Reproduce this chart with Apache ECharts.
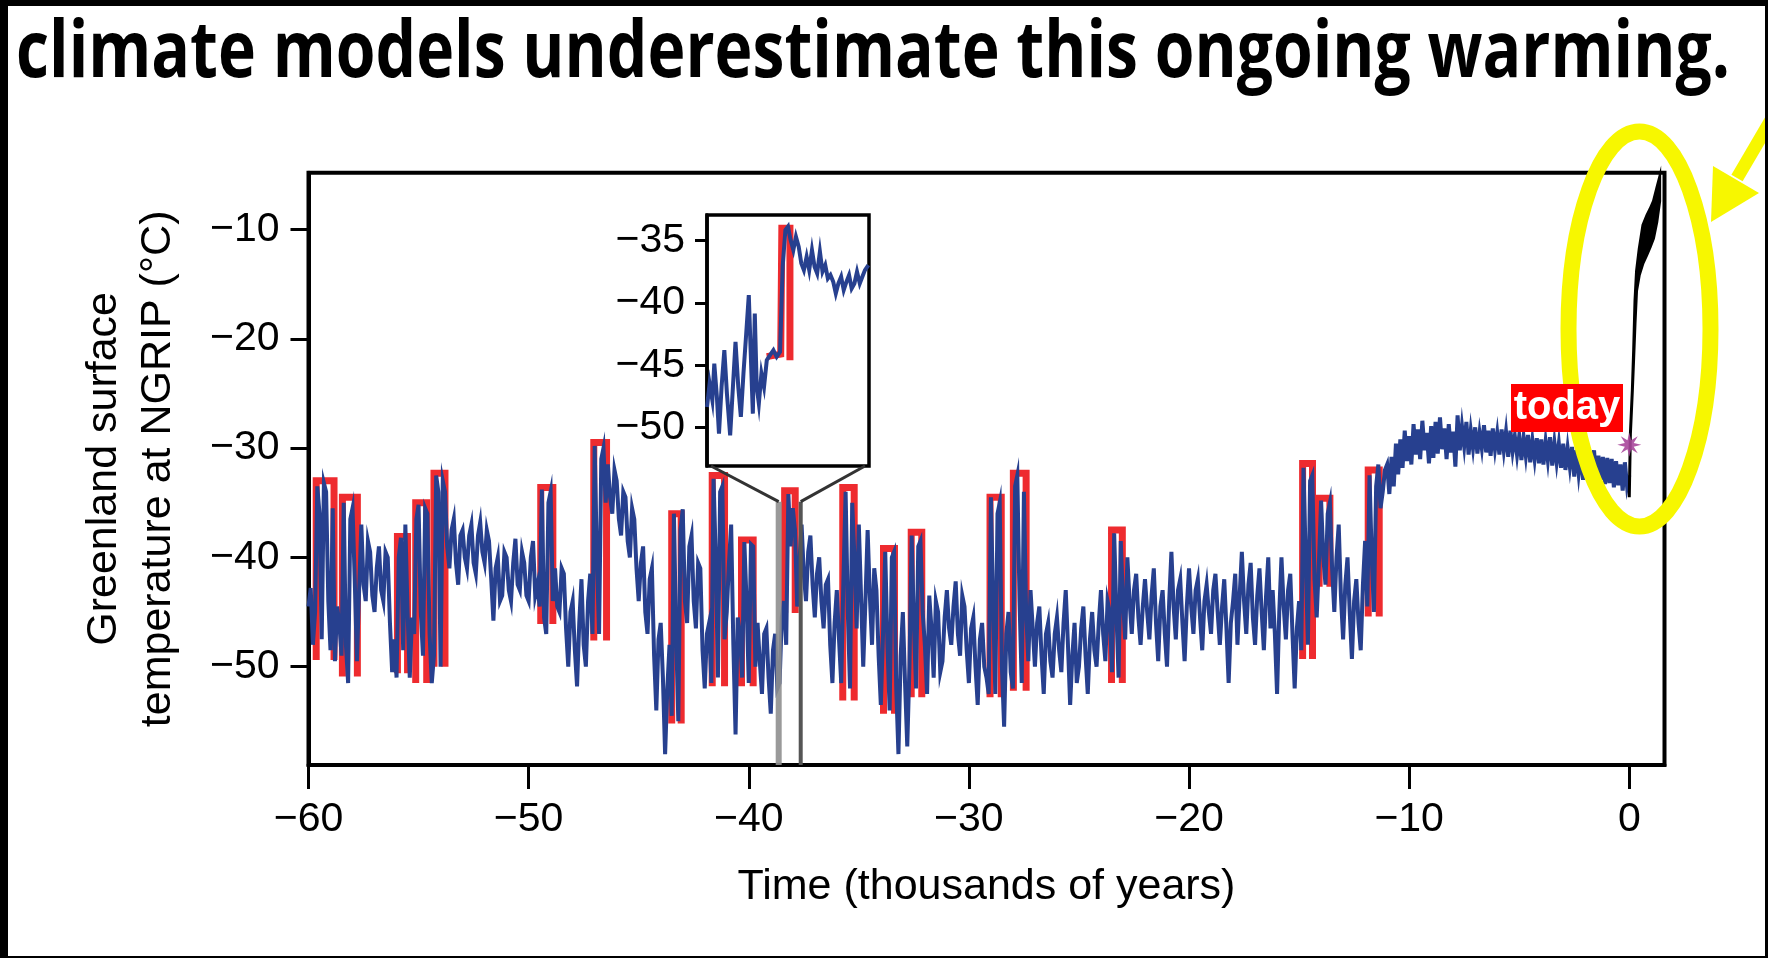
<!DOCTYPE html>
<html>
<head>
<meta charset="utf-8">
<script src="https://cdn.jsdelivr.net/npm/echarts@6/dist/echarts.min.js"></script>
<style>
html,body{margin:0;padding:0;background:#fff;overflow:hidden}
#c{width:1768px;height:958px}
</style>
</head>
<body>
<div id="c"></div>
<script>
// ---------------- DATA ----------------
const titleText = 'climate models underestimate this ongoing warming.';
const xAxisTitle = 'Time (thousands of years)';
const yAxisTitle = 'Greenland surface\ntemperature at NGRIP (\u00B0C)';
const todayLabel = 'today';

const xTickValues = [-60, -50, -40, -30, -20, -10, 0];
const yTickValues = [-50, -40, -30, -20, -10];
const insetTickValues = [-50, -45, -40, -35];

// NGRIP record: start (kyr), step (kyr) and temperature (°C), one row per kyr
const recordStart = -60;
const recordStep = 0.1;
const ngripTemp = [
  -44.5, -42.8, -48.0, -45.0, -33.5, -36.0, -47.5, -33.2, -34.0, -44.0,
  -48.5, -35.5, -49.5, -44.5, -46.0, -49.0, -35.0, -48.0, -51.5, -36.5,
  -35.5, -42.0, -49.5, -43.0, -37.0, -42.5, -44.0, -38.5, -39.5, -43.5,
  -45.0, -41.0, -39.0, -43.0, -44.0, -39.5, -40.0, -46.0, -50.5, -47.5,
  -51.0, -40.0, -38.2, -48.5, -37.0, -45.0, -51.0, -45.5, -47.0, -36.5,
  -35.2, -45.0, -49.0, -35.5, -36.0, -47.0, -51.5, -49.0, -32.5, -34.0,
  -50.0, -33.0, -34.0, -39.0, -41.0, -37.5, -36.5, -40.5, -42.5, -38.0,
  -37.5, -40.0, -41.0, -38.0, -37.0, -40.5, -41.5, -38.0, -36.8, -39.5,
  -40.5, -37.5, -38.5, -42.0, -45.8, -41.0, -40.0, -44.0, -43.5, -39.5,
  -40.0, -43.0, -44.0, -40.5, -38.3, -42.5, -43.0, -39.5, -40.5, -43.5,
  -44.0, -40.0, -38.5, -43.5, -42.5, -44.5, -33.8, -45.5, -47.0, -35.0,
  -34.0, -44.0, -41.0, -44.5, -45.0, -41.0, -41.5, -46.5, -50.0, -45.0,
  -44.0, -48.5, -51.8, -46.0, -42.0, -48.0, -50.0, -44.0, -41.5, -47.0,
  -29.8, -40.0, -47.0, -31.0, -30.0, -35.0, -31.5, -34.5, -36.0, -32.0,
  -33.0, -36.5, -38.0, -34.0, -34.5, -38.5, -40.0, -35.5, -36.5, -41.0,
  -44.0, -40.5, -39.0, -45.0, -47.0, -42.0, -41.0, -49.0, -54.0, -47.5,
  -46.0, -51.0, -58.0, -52.0, -48.0, -54.5, -36.0, -47.0, -55.0, -37.5,
  -35.6, -44.0, -46.0, -39.0, -38.0, -44.0, -46.5, -40.5, -41.0, -48.5,
  -52.0, -47.0, -46.0, -51.5, -32.8, -40.0, -51.0, -34.0, -33.5, -47.5,
  -45.0, -40.5, -37.0, -48.0, -56.2, -45.5, -47.0, -51.0, -38.6, -44.0,
  -51.5, -38.8, -39.0, -50.0, -46.0, -49.5, -52.5, -47.0, -46.5, -51.0,
  -54.3, -48.5, -47.0, -52.0, -51.5, -45.5, -44.0, -48.0, -34.2, -39.0,
  -35.5, -37.5, -44.5, -40.5, -37.0, -41.5, -44.0, -39.5, -38.0, -42.5,
  -45.5, -41.5, -40.0, -44.0, -46.5, -42.5, -42.0, -48.0, -51.5, -46.0,
  -43.0, -47.5, -51.5, -42.0, -34.0, -45.0, -52.0, -35.0, -40.0, -46.5,
  -37.0, -43.5, -50.0, -44.0, -37.5, -43.5, -48.0, -41.0, -43.0, -49.0,
  -53.5, -47.0, -39.5, -48.0, -54.0, -40.0, -39.5, -52.0, -58.0, -49.0,
  -45.0, -51.5, -57.3, -50.0, -38.0, -46.0, -52.0, -39.0, -38.5, -45.0,
  -48.0, -52.5, -43.5, -46.5, -51.0, -44.0, -45.0, -50.5, -49.5, -45.5,
  -43.0, -46.5, -48.0, -44.5, -42.2, -47.0, -49.0, -43.5, -44.5, -48.5,
  -51.5, -46.5, -45.5, -50.0, -53.5, -47.5, -46.0, -50.0, -51.0, -52.5,
  -34.5, -44.0, -52.5, -36.0, -35.0, -50.0, -55.5, -47.0, -45.0, -50.5,
  -52.0, -33.5, -32.5, -44.0, -51.5, -34.0, -45.0, -49.5, -43.0, -46.5,
  -50.0, -46.0, -44.5, -49.0, -52.5, -47.0, -46.0, -49.5, -51.0, -47.0,
  -45.5, -48.5, -50.5, -46.0, -43.0, -48.0, -53.5, -49.0, -46.0, -51.5,
  -50.0, -46.5, -44.5, -49.0, -52.5, -47.5, -45.0, -48.5, -50.0, -46.0,
  -43.0, -47.0, -49.5, -44.0, -45.0, -50.5, -37.8, -45.0, -51.0, -38.5,
  -44.0, -47.5, -40.0, -44.0, -47.0, -43.0, -41.5, -45.5, -48.0, -44.5,
  -42.0, -45.0, -47.5, -43.5, -41.0, -46.0, -49.5, -44.5, -43.0, -47.0,
  -50.0, -44.0, -39.5, -44.5, -47.5, -43.0, -42.0, -46.0, -49.5, -44.5,
  -41.0, -44.5, -47.0, -43.0, -42.0, -45.5, -48.5, -44.0, -42.5, -45.0,
  -47.0, -43.0, -41.5, -45.0, -48.0, -44.5, -42.0, -46.5, -51.5, -46.0,
  -44.0, -41.5, -48.0, -43.5, -39.5, -44.0, -47.0, -42.5, -40.5, -45.5,
  -48.0, -43.5, -41.0, -45.0, -48.5, -43.5, -40.0, -46.5, -43.0, -47.0,
  -52.5, -45.0, -40.0, -44.5, -47.5, -43.0, -41.5, -47.0, -52.0, -46.5,
  -44.0, -48.5, -31.8, -40.0, -48.0, -33.0, -32.5, -42.0, -45.5, -40.5,
  -34.8, -40.0, -42.5, -36.0, -35.0, -41.0, -45.0, -40.0, -37.0, -43.5,
  -47.5, -42.5, -40.0, -45.0, -49.3, -44.0, -42.0, -46.0, -48.5, -42.5,
  -38.5, -44.5, -32.5, -40.0, -45.0, -33.5, -31.5, -35.5, -34.0, -32.0,
  -31.5, -34.2, -30.8, -33.5, -29.6, -32.4, -29.2, -31.8, -28.4, -31.2,
  -28.9, -31.5, -27.8, -30.6, -28.3, -31.0, -27.5, -30.2, -28.6, -31.4,
  -28.0, -30.9, -27.6, -30.5, -27.2, -30.1, -28.2, -31.0, -27.8, -30.4,
  -28.5, -31.7, -27.0, -30.2, -28.0, -29.8, -27.6, -30.6, -28.4, -30.0,
  -28.1, -30.5, -28.6, -30.0, -27.9, -30.4, -28.4, -30.7, -28.2, -30.1,
  -28.6, -30.6, -28.3, -30.2, -28.5, -30.8, -28.4, -30.3, -28.9, -30.6,
  -28.9, -31.1, -29.0, -30.7, -28.8, -31.3, -29.3, -31.0, -29.1, -31.4,
  -29.2, -31.5, -29.4, -31.1, -29.0, -31.6, -29.5, -31.3, -29.6, -31.8,
  -29.6, -32.0, -30.0, -31.7, -29.9, -32.6, -30.2, -32.3, -30.4, -32.9,
  -30.3, -32.8, -30.6, -32.5, -30.2, -33.1, -30.7, -32.9, -30.8, -33.3,
  -30.9, -33.2, -31.0, -33.6, -31.2, -33.4, -31.5, -33.9, -31.3, -33.5,
  -32.5
];

// abrupt warming (red) events: start/end (kyr), low and high level (°C)
const doStart = [-59.65, -58.46, -55.96, -55.13, -54.30, -49.45, -47.04, -43.50, -41.66, -40.33, -38.37, -35.73, -33.88, -32.62, -29.04, -27.98, -23.52, -14.84, -14.09, -11.86];
const doEnd   = [-58.84, -57.78, -55.50, -54.63, -53.80, -48.90, -46.46, -43.07, -41.10, -39.80, -37.89, -35.21, -33.38, -32.14, -28.53, -27.40, -23.03, -14.39, -13.60, -11.36];
const doLow   = [-49.4, -50.9, -50.6, -51.5, -50.0, -46.1, -47.6, -55.2, -51.8, -51.8, -45.1, -53.1, -54.3, -52.8, -52.8, -52.2, -51.5, -49.3, -42.7, -45.4];
const doHigh  = [-33.0, -34.5, -38.1, -35.0, -32.3, -33.6, -29.5, -36.0, -32.5, -38.4, -33.9, -33.6, -39.2, -37.7, -34.5, -32.3, -37.5, -31.4, -34.6, -32.0];

// inset: 1000-year window (years from window start) and temperature
const insetWindow = [-38.64, -37.64];   // kyr in the main record
const insetYRange = [-53.08, -32.94];
const grayLineTop = -34.9;
const insetYears = [0, 16, 33, 45, 61, 74, 90, 107, 123, 143, 160, 176, 193, 209, 225, 242, 258, 270, 283, 295, 307, 320, 336, 352, 369, 389, 410, 430, 451, 467, 484, 500, 516, 533, 549, 566, 582, 598, 615, 631, 648, 664, 680, 697, 713, 730, 746, 762, 779, 795, 811, 828, 844, 861, 877, 893, 910, 926, 943, 959, 975, 996];
const insetTemp  = [-48.34, -46.47, -47.80, -44.86, -47.54, -50.48, -46.73, -43.79, -47.27, -50.62, -46.73, -43.12, -46.73, -49.14, -45.66, -42.45, -39.37, -44.05, -48.88, -40.84, -46.73, -48.07, -45.66, -46.73, -44.59, -44.19, -43.79, -44.32, -43.92, -37.09, -34.14, -33.87, -34.95, -35.75, -34.68, -35.48, -36.82, -37.36, -36.29, -37.36, -35.75, -37.09, -37.63, -35.88, -37.49, -36.96, -38.03, -37.76, -38.29, -39.23, -38.43, -37.89, -38.96, -38.29, -37.76, -38.83, -38.43, -37.49, -38.43, -37.89, -37.36, -36.96];
const insetRedYears = [369, 455, 462, 512, 512];
const insetRedTemp  = [-44.3, -44.1, -34.0, -34.0, -44.6];

// projection (black) after today: time (kyr), upper and lower edge (°C)
const projTime  = [0, 0.05, 0.14, 0.2, 0.26, 0.33, 0.45, 0.62, 0.8, 0.95, 1.1, 1.25, 1.38];
const projUpper = [-34.5, -28.7, -24.7, -21.0, -16.5, -13.8, -11.8, -9.6, -8.7, -8.1, -7.4, -6.2, -5.2];
const projLower = [-34.5, -28.7, -24.7, -21.7, -18.6, -15.6, -14.2, -13.1, -12.3, -11.6, -10.8, -9.3, -7.4];

const todayPoint = [0, -29.7];

// ---------------- CHART ----------------
const FONT = '"Liberation Sans", Arial, Helvetica, sans-serif';
const BLUE = '#27408f';
const RED = '#ee2b2f';
const fmt = v => (v < 0 ? '\u2212' : '') + Math.abs(v);

const chart = echarts.init(document.getElementById('c'), null, {renderer: 'canvas', width: 1768, height: 958});

const blueData = ngripTemp.map((v, i) => [Math.round((recordStart + i * recordStep) * 10) / 10, v]);

const redSeries = doStart.map((t0, i) => ({
  type: 'line', xAxisIndex: 0, yAxisIndex: 0, z: 2, symbol: 'none', silent: true,
  lineStyle: {color: RED, width: 7, join: 'miter', cap: 'butt'},
  data: [[t0, doLow[i]], [t0, doHigh[i]], [doEnd[i], doHigh[i]], [doEnd[i], doLow[i]]]
}));

const starPath = 'path://M0,-10 L1.53,-3.7 L7.07,-7.07 L3.7,-1.53 L10,0 L3.7,1.53 L7.07,7.07 L1.53,3.7 L0,10 L-1.53,3.7 L-7.07,7.07 L-3.7,1.53 L-10,0 L-3.7,-1.53 L-7.07,-7.07 L-1.53,-3.7 Z';

const option = {
  animation: false,
  backgroundColor: '#fff',
  grid: [
    {left: 308.5, top: 172.7, width: 1356, height: 592.3, show: true, borderColor: '#000', borderWidth: 4, backgroundColor: 'transparent', containLabel: false, outerBoundsMode: 'none'},
    {left: 707, top: 215, width: 162, height: 251, show: true, borderColor: '#000', borderWidth: 3.5, backgroundColor: 'transparent', containLabel: false, outerBoundsMode: 'none'}
  ],
  xAxis: [
    {
      gridIndex: 0, type: 'value', min: -60, max: 1.6,
      axisLine: {show: true, onZero: false, lineStyle: {color: '#000', width: 4}},
      axisTick: {show: true, inside: false, length: 24, customValues: xTickValues, lineStyle: {color: '#000', width: 3}},
      axisLabel: {show: true, customValues: xTickValues, margin: 34, fontSize: 41, fontFamily: FONT, color: '#000', formatter: fmt},
      splitLine: {show: false},
      name: xAxisTitle, nameLocation: 'middle', nameGap: 98,
      nameTextStyle: {fontSize: 43, fontFamily: FONT, color: '#000', lineHeight: 48}
    },
    {
      gridIndex: 1, type: 'value', min: 0, max: 1000, show: false,
      splitLine: {show: false}
    }
  ],
  yAxis: [
    {
      gridIndex: 0, type: 'value', min: -59, max: -4.8,
      axisLine: {show: true, onZero: false, lineStyle: {color: '#000', width: 4}},
      axisTick: {show: true, inside: false, length: 18, customValues: yTickValues, lineStyle: {color: '#000', width: 3}},
      axisLabel: {show: true, customValues: yTickValues, margin: 29, fontSize: 41, fontFamily: FONT, color: '#000', formatter: fmt},
      splitLine: {show: false},
      name: yAxisTitle, nameLocation: 'middle', nameRotate: 90, nameGap: 123,
      nameTextStyle: {fontSize: 43, fontFamily: FONT, color: '#000', lineHeight: 54, align: 'center'}
    },
    {
      gridIndex: 1, type: 'value', min: insetYRange[0], max: insetYRange[1],
      axisLine: {show: true, onZero: false, lineStyle: {color: '#000', width: 3.5}},
      axisTick: {show: true, inside: false, length: 12, customValues: insetTickValues, lineStyle: {color: '#000', width: 3}},
      axisLabel: {show: true, customValues: insetTickValues, margin: 22, fontSize: 41, fontFamily: FONT, color: '#000', formatter: fmt},
      splitLine: {show: false}
    }
  ],
  series: [
    ...redSeries,
    {
      type: 'line', name: 'NGRIP', xAxisIndex: 0, yAxisIndex: 0, z: 3, symbol: 'none', silent: true,
      sampling: 'none', lineStyle: {color: BLUE, width: 4, join: 'miter'},
      data: blueData
    },
    {
      type: 'line', xAxisIndex: 0, yAxisIndex: 0, z: 4, symbol: 'none', silent: true,
      lineStyle: {color: '#8f8f8f', width: 6, opacity: 0.9},
      data: [[insetWindow[0], grayLineTop], [insetWindow[0], -59]]
    },
    {
      type: 'line', xAxisIndex: 0, yAxisIndex: 0, z: 4, symbol: 'none', silent: true,
      lineStyle: {color: '#555', width: 4},
      data: [[insetWindow[1], grayLineTop], [insetWindow[1], -59]]
    },
    {
      type: 'custom', xAxisIndex: 0, yAxisIndex: 0, z: 5, silent: true,
      data: [[projTime[0], projUpper[0]]],
      renderItem: function (params, api) {
        const up = projTime.map((t, i) => api.coord([t, projUpper[i]]));
        const lo = projTime.map((t, i) => api.coord([t, projLower[i]])).reverse();
        return {type: 'polygon', shape: {points: up.concat(lo)}, style: {fill: '#000', stroke: '#000', lineWidth: 3}};
      }
    },
    {
      type: 'scatter', xAxisIndex: 0, yAxisIndex: 0, z: 6, silent: true,
      symbol: starPath, symbolSize: 24, itemStyle: {color: '#a9479b', opacity: 0.9},
      data: [todayPoint]
    },
    {
      type: 'line', xAxisIndex: 1, yAxisIndex: 1, z: 2, symbol: 'none', silent: true,
      lineStyle: {color: RED, width: 7, join: 'miter'},
      data: insetRedYears.map((y, i) => [y, insetRedTemp[i]])
    },
    {
      type: 'line', xAxisIndex: 1, yAxisIndex: 1, z: 3, symbol: 'none', silent: true,
      lineStyle: {color: BLUE, width: 4, join: 'miter'},
      data: insetYears.map((y, i) => [y, insetTemp[i]])
    }
  ]
};
chart.setOption(option);

// ---------- decorations (annotation graphics) ----------
const mctx = document.createElement('canvas').getContext('2d');
const titleFont = 'bold 78px "Open Sans"';
mctx.font = titleFont;
const titleW = mctx.measureText(titleText).width || 2200;
const titleScale = 1714 / titleW;

const pInsetL = chart.convertToPixel({xAxisIndex: 1, yAxisIndex: 1}, [0, insetYRange[0]]);
const pInsetR = chart.convertToPixel({xAxisIndex: 1, yAxisIndex: 1}, [1000, insetYRange[0]]);
const pGrayL = chart.convertToPixel({xAxisIndex: 0, yAxisIndex: 0}, [insetWindow[0], grayLineTop]);
const pGrayR = chart.convertToPixel({xAxisIndex: 0, yAxisIndex: 0}, [insetWindow[1], grayLineTop]);

const YEL = '#f7f700';
chart.setOption({
  graphic: [
    {type: 'text', z: 100, x: 16, y: 16, scaleX: titleScale, scaleY: 1,
     style: {text: titleText, font: titleFont, fill: '#000', textAlign: 'left', textVerticalAlign: 'top', align: 'left', verticalAlign: 'top'}},
    {type: 'line', z: 100, shape: {x1: pInsetL[0] + 4, y1: pInsetL[1], x2: pGrayL[0], y2: pGrayL[1]}, style: {stroke: '#333', lineWidth: 3}},
    {type: 'line', z: 100, shape: {x1: pInsetR[0] - 4, y1: pInsetR[1], x2: pGrayR[0], y2: pGrayR[1]}, style: {stroke: '#333', lineWidth: 3}},
    {type: 'ellipse', z: 100, shape: {cx: 1639.5, cy: 329, rx: 71, ry: 197.5}, style: {fill: 'rgba(0,0,0,0)', stroke: YEL, lineWidth: 16}},
    {type: 'line', z: 100, shape: {x1: 1737, y1: 178, x2: 1792, y2: 84}, style: {stroke: YEL, lineWidth: 13}},
    {type: 'polygon', z: 100, shape: {points: [[1711, 222], [1713, 166], [1759, 193]]}, style: {fill: YEL}},
    {type: 'rect', z: 104, shape: {x: 1511, y: 384, width: 112, height: 48}, style: {fill: '#ff0000'}},
    {type: 'text', z: 105, x: 1567, y: 407.5,
     style: {text: todayLabel, font: 'bold 40px "Liberation Sans", Arial, sans-serif', fill: '#fff', textAlign: 'center', textVerticalAlign: 'middle', align: 'center', verticalAlign: 'middle'}},
    {type: 'rect', z: 110, shape: {x: 0, y: 0, width: 8, height: 958}, style: {fill: '#000'}},
    {type: 'rect', z: 110, shape: {x: 0, y: 0, width: 1768, height: 6}, style: {fill: '#000'}},
    {type: 'rect', z: 110, shape: {x: 1765, y: 0, width: 3, height: 958}, style: {fill: '#000'}},
    {type: 'rect', z: 110, shape: {x: 0, y: 956, width: 1768, height: 2}, style: {fill: '#000'}}
  ]
});
</script>
</body>
</html>
